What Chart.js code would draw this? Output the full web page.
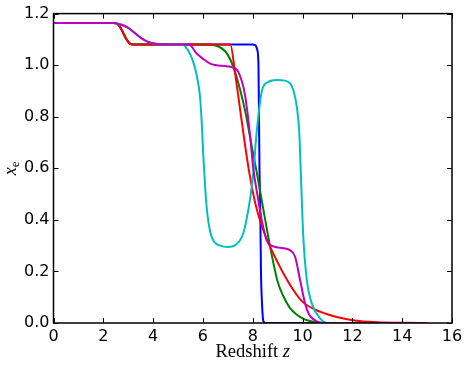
<!DOCTYPE html>
<html>
<head>
<meta charset="utf-8">
<script src="https://cdn.jsdelivr.net/npm/chart.js@4/dist/chart.umd.min.js"></script>
<style>
  body { margin: 0; background: #fff; }
  canvas { display: block; }
</style>
</head>
<body>
<canvas id="chart" width="468" height="365"></canvas>
<script>
// redshift z and ionized fraction x_e
const blueZ  = [0, 2.45, 2.6, 2.75, 2.9, 3.05, 3.2, 8.0, 8.1, 8.18, 8.23, 8.27, 8.3, 8.33, 8.37, 8.42, 8.5, 15];
const blueXe = [1.164, 1.164, 1.158, 1.135, 1.105, 1.085, 1.08, 1.08, 1.078, 1.06, 1.0, 0.6, 0.45, 0.2, 0.08, 0.01, 0, 0];

const greenZ  = [0, 2.45, 2.6, 2.75, 2.9, 3.05, 3.2, 6.0, 6.5, 7.0, 7.3, 7.7, 7.95, 8.15, 8.5, 8.75, 9.0, 9.25, 9.5, 10.0, 10.5, 11, 15];
const greenXe = [1.164, 1.164, 1.158, 1.135, 1.105, 1.085, 1.08, 1.08, 1.076, 1.04, 0.97, 0.82, 0.69, 0.59, 0.40, 0.27, 0.16, 0.10, 0.058, 0.018, 0.004, 0, 0];

const redZ  = [0, 2.45, 2.6, 2.75, 2.9, 3.05, 3.2, 7.1, 7.3, 7.5, 7.7, 7.85, 8.1, 8.35, 8.63, 9.0, 9.3, 9.65, 10.0, 10.5, 10.9, 11.5, 12, 13, 14, 15];
const redXe = [1.164, 1.164, 1.158, 1.135, 1.105, 1.085, 1.08, 1.08, 0.962, 0.823, 0.684, 0.59, 0.465, 0.38, 0.31, 0.235, 0.18, 0.125, 0.082, 0.052, 0.037, 0.02, 0.011, 0.003, 0.001, 0];

const cyanZ  = [0, 2.4, 2.7, 3.0, 3.3, 3.6, 3.9, 4.3, 5.2, 5.35, 5.5, 5.62, 5.75, 5.88, 5.95, 6.02, 6.1, 6.18, 6.3, 6.45, 6.7, 7.0, 7.3, 7.62, 7.82, 7.96, 8.05, 8.12, 8.2, 8.36, 8.63, 8.96, 9.3, 9.5, 9.63, 9.77, 9.87, 9.94, 10.03, 10.17, 10.37, 10.7, 11.0, 15];
const cyanXe = [1.164, 1.164, 1.158, 1.145, 1.122, 1.10, 1.087, 1.081, 1.08, 1.065, 1.04, 1.01, 0.96, 0.88, 0.78, 0.64, 0.51, 0.42, 0.35, 0.315, 0.30, 0.295, 0.302, 0.348, 0.438, 0.528, 0.61, 0.70, 0.78, 0.897, 0.935, 0.942, 0.94, 0.929, 0.903, 0.838, 0.735, 0.555, 0.334, 0.167, 0.076, 0.018, 0, 0];

const magentaZ  = [0, 2.4, 2.7, 3.0, 3.3, 3.6, 3.9, 4.3, 5.45, 5.75, 6.0, 6.29, 7.0, 7.16, 7.42, 7.69, 7.89, 8.02, 8.2, 8.36, 8.56, 8.75, 9.03, 9.5, 9.7, 9.9, 10.1, 10.25, 10.43, 10.8, 15];
const magentaXe = [1.164, 1.164, 1.158, 1.145, 1.122, 1.10, 1.087, 1.081, 1.079, 1.045, 1.025, 1.006, 0.995, 0.992, 0.974, 0.884, 0.73, 0.60, 0.49, 0.40, 0.32, 0.30, 0.293, 0.283, 0.257, 0.167, 0.076, 0.035, 0.015, 0, 0];

const xTicks = [0, 2, 4, 6, 8, 10, 12, 14, 16];
const yTicks = [0, 0.2, 0.4, 0.6, 0.8, 1.0, 1.2];

function pts(zs, xs) {
  return zs.map((z, i) => ({ x: z, y: xs[i] }));
}

function series(data, color, order) {
  return {
    data: data,
    borderColor: color,
    backgroundColor: color,
    borderWidth: 2,
    pointRadius: 0,
    cubicInterpolationMode: "monotone",
    fill: false,
    order: order,
  };
}

// inward ticks on all four sides, the box, and the two axis titles
const framePlugin = {
  id: "frame",
  afterDraw(chart) {
    const ctx = chart.ctx;
    const a = chart.chartArea;
    const sx = chart.scales.x;
    const sy = chart.scales.y;
    ctx.save();
    ctx.strokeStyle = "#000";
    ctx.lineWidth = 1;
    ctx.beginPath();
    xTicks.forEach((t) => {
      const px = Math.round(sx.getPixelForValue(t)) + 0.5;
      ctx.moveTo(px, a.bottom);
      ctx.lineTo(px, a.bottom - 5);
      ctx.moveTo(px, a.top);
      ctx.lineTo(px, a.top + 5);
    });
    yTicks.forEach((t) => {
      const py = Math.round(sy.getPixelForValue(t)) + 0.5;
      ctx.moveTo(a.left, py);
      ctx.lineTo(a.left + 5, py);
      ctx.moveTo(a.right, py);
      ctx.lineTo(a.right - 5, py);
    });
    ctx.stroke();
    ctx.lineWidth = 1.5;
    ctx.strokeRect(a.left, a.top, a.right - a.left, a.bottom - a.top);

    // x title: "Redshift z"
    ctx.fillStyle = "#000";
    ctx.textBaseline = "alphabetic";
    ctx.textAlign = "left";
    const f1 = '18.5px "Liberation Serif"';
    const f2 = 'italic 18.5px "Liberation Serif"';
    ctx.font = f1;
    const w1 = ctx.measureText("Redshift ").width;
    ctx.font = f2;
    const w2 = ctx.measureText("z").width;
    let x0 = (a.left + a.right) / 2 - (w1 + w2) / 2;
    ctx.font = f1;
    ctx.fillText("Redshift ", x0, 357);
    ctx.font = f2;
    ctx.fillText("z", x0 + w1, 357);

    // y title: x_e
    ctx.translate(16, (a.top + a.bottom) / 2);
    ctx.rotate(-Math.PI / 2);
    ctx.font = 'italic 18px "Liberation Serif"';
    const wx = ctx.measureText("x").width;
    ctx.font = '13px "Liberation Serif"';
    const we = ctx.measureText("e").width;
    ctx.font = 'italic 18px "Liberation Serif"';
    ctx.fillText("x", -(wx + we) / 2, 0);
    ctx.font = '13px "Liberation Serif"';
    ctx.fillText("e", -(wx + we) / 2 + wx, 3);
    ctx.restore();
  },
};

new Chart(document.getElementById("chart"), {
  type: "line",
  data: {
    datasets: [
      series(pts(blueZ, blueXe), "#0000ff", 5),
      series(pts(greenZ, greenXe), "#008000", 4),
      series(pts(redZ, redXe), "#ff0000", 3),
      series(pts(cyanZ, cyanXe), "#00bfbf", 2),
      series(pts(magentaZ, magentaXe), "#bf00bf", 1),
    ],
  },
  options: {
    responsive: false,
    animation: false,
    layout: { padding: { left: 0, top: 13, right: 16, bottom: 0 } },
    plugins: { legend: { display: false }, tooltip: { enabled: false } },
    scales: {
      x: {
        type: "linear",
        min: 0,
        max: 16,
        afterFit: (s) => { s.height = 42; },
        afterBuildTicks: (s) => { s.ticks = xTicks.map((v) => ({ value: v })); },
        grid: { display: false, drawTicks: false },
        border: { display: false },
        ticks: {
          color: "#000",
          padding: 4,
          maxRotation: 0,
          font: { family: "DejaVu Sans", size: 16 },
          callback: (v) => String(v),
        },
      },
      y: {
        type: "linear",
        min: 0,
        max: 1.2,
        afterFit: (s) => { s.width = 53.5; },
        afterBuildTicks: (s) => { s.ticks = yTicks.map((v) => ({ value: v })); },
        grid: { display: false, drawTicks: false },
        border: { display: false },
        ticks: {
          color: "#000",
          padding: 4,
          font: { family: "DejaVu Sans", size: 16 },
          callback: (v) => Number(v).toFixed(1),
        },
      },
    },
  },
  plugins: [framePlugin],
});
</script>
</body>
</html>
